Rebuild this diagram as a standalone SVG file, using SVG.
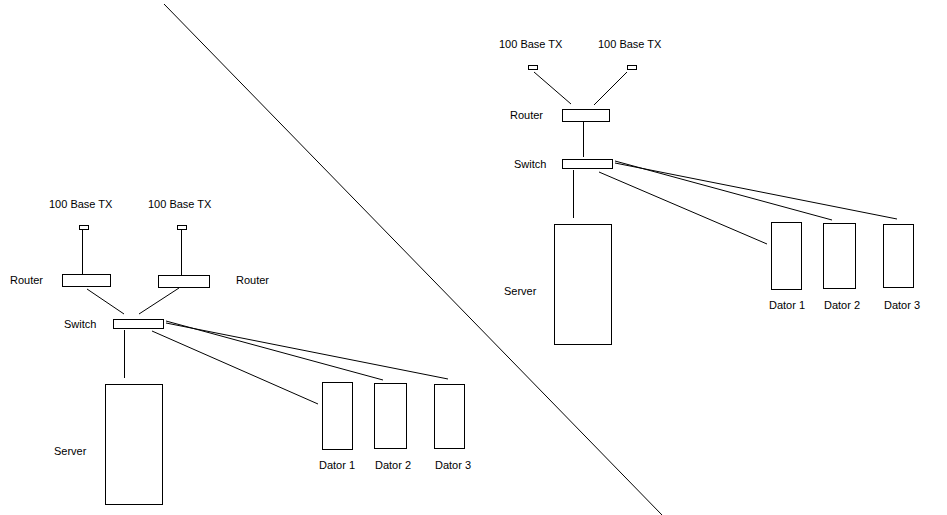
<svg xmlns="http://www.w3.org/2000/svg" width="947" height="515" viewBox="0 0 947 515">
<style>
  .box { fill: #fff; stroke: #000; stroke-width: 1; }
  .ln { stroke: #000; stroke-width: 1; fill: none; }
  text { font-family: "Liberation Sans", Arial, sans-serif; font-size: 11px; fill: #000; }
</style>
<rect width="947" height="515" fill="#fff"/>
<line class="ln" x1="164" y1="4" x2="662" y2="515"/>

<g id="connectors">
  <!-- left network -->
  <line class="ln" x1="82.5" y1="230" x2="82.5" y2="274"/>
  <line class="ln" x1="181.5" y1="230" x2="181.5" y2="275"/>
  <line class="ln" x1="87" y1="289" x2="124" y2="314"/>
  <line class="ln" x1="179" y1="288" x2="139" y2="314"/>
  <line class="ln" x1="124.5" y1="330" x2="124.5" y2="378"/>
  <line class="ln" x1="152" y1="331" x2="318" y2="404"/>
  <line class="ln" x1="166" y1="321" x2="383" y2="380"/>
  <line class="ln" x1="166" y1="323" x2="448" y2="379"/>
  <!-- right network -->
  <line class="ln" x1="534" y1="72" x2="571" y2="104"/>
  <line class="ln" x1="627" y1="72" x2="594" y2="105"/>
  <line class="ln" x1="583.5" y1="121" x2="583.5" y2="157"/>
  <line class="ln" x1="573.5" y1="170" x2="573.5" y2="218"/>
  <line class="ln" x1="599" y1="172" x2="767" y2="244"/>
  <line class="ln" x1="615" y1="161" x2="832" y2="220"/>
  <line class="ln" x1="615" y1="163" x2="897" y2="219"/>
</g>

<!-- left network nodes -->
<g id="L-tx1"><text x="49" y="208">100 Base TX</text><rect class="box" x="79.5" y="225.5" width="9" height="4"/></g>
<g id="L-tx2"><text x="148" y="208">100 Base TX</text><rect class="box" x="177.5" y="225.5" width="9" height="4"/></g>
<g id="L-router1"><text x="10" y="284">Router</text><rect class="box" x="62.5" y="274.5" width="48" height="12"/></g>
<g id="L-router2"><text x="236" y="284">Router</text><rect class="box" x="158.5" y="275.5" width="51" height="12"/></g>
<g id="L-switch"><text x="64" y="328">Switch</text><rect class="box" x="113.5" y="319.5" width="50" height="9"/></g>
<g id="L-server"><text x="54" y="455">Server</text><rect class="box" x="105.5" y="384.5" width="57" height="120"/></g>
<g id="L-dator1"><text x="319" y="469">Dator 1</text><rect class="box" x="322.5" y="382.5" width="30" height="67"/></g>
<g id="L-dator2"><text x="375" y="469">Dator 2</text><rect class="box" x="374.5" y="383.5" width="32" height="65"/></g>
<g id="L-dator3"><text x="435" y="469">Dator 3</text><rect class="box" x="434.5" y="384.5" width="30" height="64"/></g>

<!-- right network nodes -->
<g id="R-tx1"><text x="499" y="48">100 Base TX</text><rect class="box" x="528.5" y="65.5" width="9" height="4"/></g>
<g id="R-tx2"><text x="598" y="48">100 Base TX</text><rect class="box" x="627.5" y="65.5" width="9" height="4"/></g>
<g id="R-router"><text x="510" y="119">Router</text><rect class="box" x="562.5" y="109.5" width="47" height="12"/></g>
<g id="R-switch"><text x="514" y="168">Switch</text><rect class="box" x="562.5" y="159.5" width="50" height="9"/></g>
<g id="R-server"><text x="504" y="295">Server</text><rect class="box" x="554.5" y="224.5" width="57" height="120"/></g>
<g id="R-dator1"><text x="769" y="309">Dator 1</text><rect class="box" x="771.5" y="222.5" width="30" height="67"/></g>
<g id="R-dator2"><text x="824" y="309">Dator 2</text><rect class="box" x="823.5" y="223.5" width="32" height="65"/></g>
<g id="R-dator3"><text x="884" y="309">Dator 3</text><rect class="box" x="883.5" y="224.5" width="30" height="63"/></g>
</svg>
